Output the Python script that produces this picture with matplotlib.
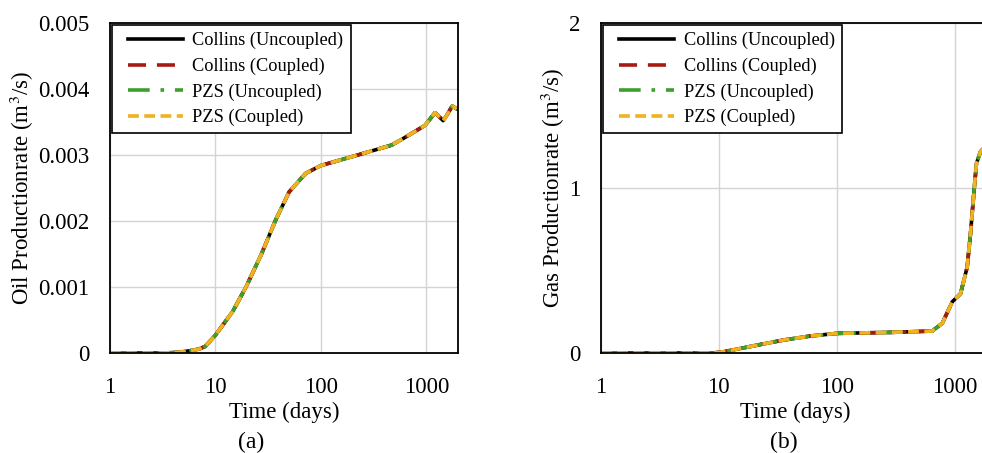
import matplotlib
matplotlib.use("Agg")
import matplotlib.pyplot as plt
from matplotlib.legend_handler import HandlerLine2D
from matplotlib.lines import Line2D
import numpy as np

plt.rcParams['font.family'] = ['Liberation Serif', 'DejaVu Serif']
plt.rcParams['mathtext.fontset'] = 'stix'

# Oil production rate (panel a)
oil_t = [1, 2, 3, 4, 5, 6, 7, 8, 10, 14.6, 19.5, 27, 37.4, 50, 71.6, 100, 213, 470, 605, 975, 1210, 1290, 1445, 1550, 1760, 1950]
oil_q = [0, 0, 0, 0.000005, 0.00002, 0.00004, 0.00006, 0.0001, 0.00027, 0.00063, 0.001, 0.00148, 0.00202, 0.00244, 0.00272, 0.00284, 0.00299, 0.00315, 0.00325, 0.00345, 0.00364, 0.0036, 0.00352, 0.00359, 0.00374, 0.0037]

# Gas production rate (panel b)
gas_t = [1, 2, 5, 9, 11.1, 21.3, 35.7, 60, 101, 287, 646, 787, 956, 1125, 1280, 1367, 1459, 1536, 1660, 2000]
gas_q = [0, 0, 0, 0.0, 0.008, 0.048, 0.079, 0.103, 0.119, 0.125, 0.133, 0.18, 0.31, 0.36, 0.52, 0.725, 0.97, 1.15, 1.22, 1.28]

series = ["Collins (Uncoupled)", "Collins (Coupled)", "PZS (Uncoupled)", "PZS (Coupled)"]
colors = ["#000000", "#a51b14", "#3f9e2c", "#f0b21e"]
styles = ["-", (0, (5, 3)), (0, (6, 3, 1, 3)), (0, (3, 1.5))]

W, H = 982, 453
fig = plt.figure(figsize=(W / 100, H / 100), dpi=100)

def make_ax(x0, x1, y0, y1):
    return fig.add_axes([x0 / W, 1 - y1 / H, (x1 - x0) / W, (y1 - y0) / H])

ax1 = make_ax(110, 458, 23, 353)
ax2 = make_ax(601, 990, 23, 353)

panels = [
    (ax1, oil_t, oil_q, 0.005, [0, 0.001, 0.002, 0.003, 0.004, 0.005],
     ["0", "0.001", "0.002", "0.003", "0.004", "0.005"], "Oil Productionrate (m$^3$/s)", "(a)"),
    (ax2, gas_t, gas_q, 2, [0, 1, 2], ["0", "1", "2"], "Gas Productionrate (m$^3$/s)", "(b)"),
]

for ax, t, q, ymax, yt, ytl, ylab, tag in panels:
    for name, c, ls in zip(series, colors, styles):
        ax.plot(t, q, color=c, linestyle=ls, lw=2.6, label=name)
    ax.set_xscale("log")
    ax.set_xlim(1, 2000)
    ax.set_ylim(0, ymax)
    ax.set_xticks([1, 10, 100, 1000])
    ax.set_xticklabels(["1", "10", "100", "1000"])
    ax.xaxis.set_minor_locator(matplotlib.ticker.NullLocator())
    ax.set_yticks(yt)
    ax.set_yticklabels(ytl)
    ax.tick_params(axis="y", length=0, labelsize=16.5, pad=15)
    ax.tick_params(axis="x", length=0, labelsize=16.5, pad=17)
    ax.grid(True, color="#d4d4d4", lw=1)
    ax.set_axisbelow(True)
    for s in ax.spines.values():
        s.set_linewidth(1.3)
    ax.set_xlabel("Time (days)", fontsize=16.5, labelpad=3)
    ax.set_ylabel(ylab, fontsize=16.5, labelpad=1)
    leg = ax.legend(loc="upper left", fontsize=13.2, frameon=True, fancybox=False,
                    edgecolor="black", borderaxespad=0.1, handlelength=4.0,
                    handletextpad=0.0, labelspacing=0.45, borderpad=0.4,
                    handler_map={Line2D: HandlerLine2D(marker_pad=0.5, numpoints=2)})
    leg.get_frame().set_linewidth(1.2)
    leg.get_frame().set_alpha(1)

fig.text(251 / W, 1 - 442 / H, "(a)", ha="center", va="center", fontsize=17)
fig.text(784 / W, 1 - 442 / H, "(b)", ha="center", va="center", fontsize=17)

fig.savefig("out.png", dpi=100)
